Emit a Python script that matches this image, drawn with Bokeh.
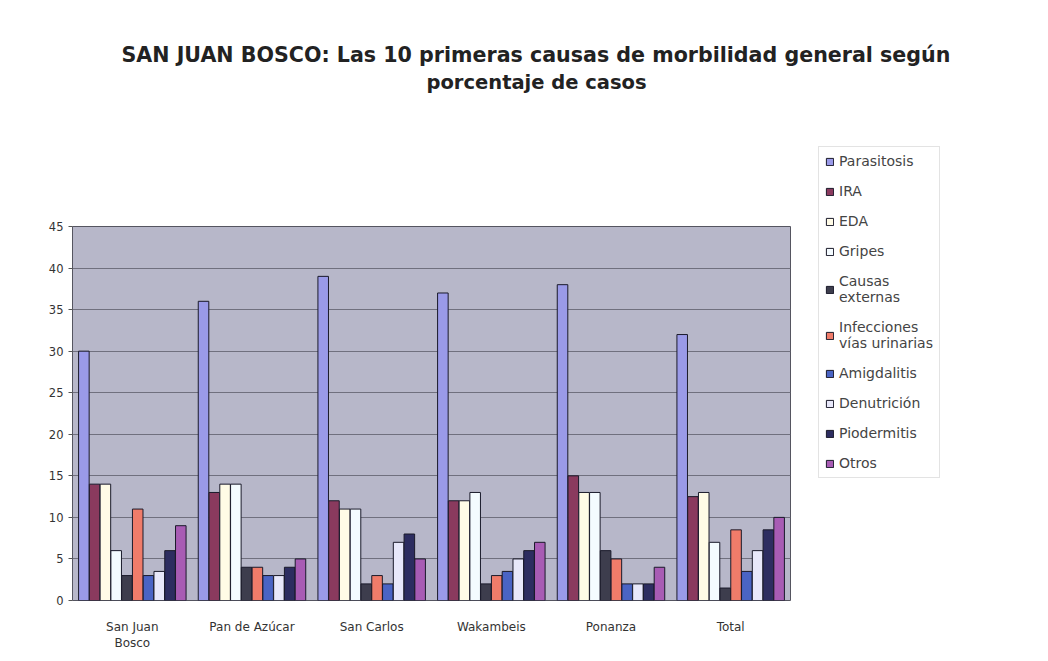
from bokeh.plotting import figure
from bokeh.models import FactorRange, Range1d, FixedTicker, ColumnDataSource, Title
from bokeh.transform import dodge
from bokeh.embed import file_html
from bokeh.resources import INLINE

# ---- data ----
groups = ["San Juan\nBosco", "Pan de Azúcar", "San Carlos", "Wakambeis", "Ponanza", "Total"]
series_names = ["Parasitosis", "IRA", "EDA", "Gripes", "Causas\nexternas",
                "Infecciones\nvías urinarias", "Amigdalitis", "Denutrición",
                "Piodermitis", "Otros"]
parasitosis = [30, 36, 39, 37, 38, 32]
ira = [14, 13, 12, 12, 15, 12.5]
eda = [14, 14, 11, 12, 13, 13]
gripes = [6, 14, 11, 13, 13, 7]
causas_externas = [3, 4, 2, 2, 6, 1.5]
infecciones = [11, 4, 3, 3, 5, 8.5]
amigdalitis = [3, 3, 2, 3.5, 2, 3.5]
denutricion = [3.5, 3, 7, 5, 2, 6]
piodermitis = [6, 4, 8, 6, 2, 8.5]
otros = [9, 5, 5, 7, 4, 10]
y_ticks = [0, 5, 10, 15, 20, 25, 30, 35, 40, 45]
title_line1 = "SAN JUAN BOSCO: Las 10 primeras causas de morbilidad general según"
title_line2 = "porcentaje de casos"

series_values = [parasitosis, ira, eda, gripes, causas_externas, infecciones,
                 amigdalitis, denutricion, piodermitis, otros]
colors = ["#9a9ae8", "#8a3a5e", "#fffbe6", "#f4fbff", "#3d3d4d", "#f07c6a",
          "#4a64c4", "#e8e8fa", "#2d2d60", "#a85cb4"]

p = figure(frame_width=718, frame_height=374, x_range=FactorRange(*groups), y_range=Range1d(0, 45),
           output_backend="svg", toolbar_location=None, title=None,
           min_border_left=72, min_border_right=250, min_border_top=226, min_border_bottom=50)

src = ColumnDataSource(dict(group=groups, **{f"s{i}": v for i, v in enumerate(series_values)}))
bw = 0.09
for i, (name, col) in enumerate(zip(series_names, colors)):
    p.vbar(x=dodge("group", (i - 4.5) * bw, range=p.x_range), top=f"s{i}", width=bw * 0.98,
           source=src, fill_color=col, line_color="#1a1a2a", line_width=1, legend_label=name)

p.background_fill_color = "#b7b7c9"
p.border_fill_color = "white"
p.outline_line_color = "#555560"
p.xgrid.grid_line_color = None
p.ygrid.grid_line_color = "#70707e"
p.ygrid.grid_line_width = 1

p.yaxis.ticker = FixedTicker(ticks=y_ticks)
p.yaxis.axis_line_color = None
p.yaxis.minor_tick_line_color = None
p.yaxis.major_tick_out = 4
p.yaxis.major_tick_in = 0
p.yaxis.major_tick_line_color = "#555"
p.yaxis.major_label_text_font = "DejaVu Sans"
p.yaxis.major_label_text_font_size = "11.5px"
p.yaxis.major_label_text_color = "#333"

p.xaxis.axis_line_color = None
p.xaxis.major_tick_line_color = None
p.xaxis.major_label_standoff = 13
p.xaxis.major_label_text_font = "DejaVu Sans"
p.xaxis.major_label_text_font_size = "12px"
p.xaxis.major_label_text_color = "#333"

lg = p.legend[0]
if lg in p.center:
    p.center.remove(lg)
p.add_layout(lg, "right")
lg.location = (28, 122)
lg.label_text_font = "DejaVu Sans"
lg.label_text_font_size = "14px"
lg.label_text_line_height = 1.1
lg.label_text_color = "#444"
lg.glyph_width = 9
lg.glyph_height = 9
lg.label_height = 16
lg.label_standoff = 5
lg.spacing = 14
lg.padding = 6
lg.border_line_color = "#c8c8c8"
lg.background_fill_color = "white"
lg.background_fill_alpha = 1

# spacer between frame and title lines, then the two title lines
p.add_layout(Title(text=" ", text_font_size="10px", standoff=119), "above")
for txt, off, fs in [(title_line2, 354, "19.5px"), (title_line1, 49, "20.6px")]:
    p.add_layout(Title(text=txt, align="left", offset=off, standoff=2,
                       text_font="DejaVu Sans", text_font_size=fs,
                       text_font_style="bold", text_color="#222"), "above")

open("out.html", "w").write(file_html(p, INLINE))
